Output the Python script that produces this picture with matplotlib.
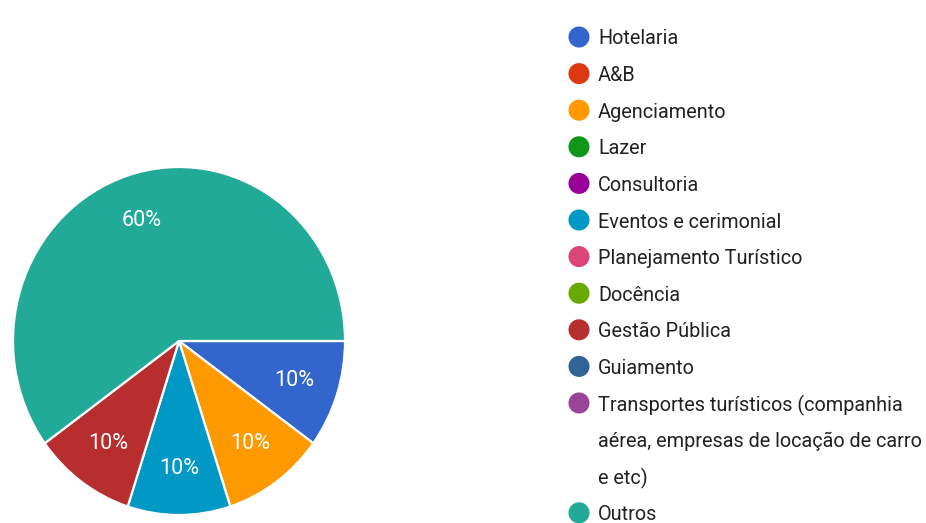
import matplotlib
matplotlib.use("Agg")
import matplotlib.pyplot as plt

# legend order, values (% of answers) and Google-chart colours
categories = [
    "Hotelaria", "A&B", "Agenciamento", "Lazer", "Consultoria",
    "Eventos e cerimonial", "Planejamento Turístico", "Docência",
    "Gestão Pública", "Guiamento",
    "Transportes turísticos (companhia\naérea, empresas de locação de carro\ne etc)",
    "Outros",
]
values = [10, 0, 10, 0, 0, 10, 0, 0, 10, 0, 0, 60]
colors = [
    "#3366cc", "#dc3912", "#ff9900", "#109618", "#990099", "#0099c6",
    "#dd4477", "#66aa00", "#b82e2e", "#316395", "#994499", "#22aa99",
]

plt.rcParams["font.family"] = ["Roboto", "DejaVu Sans"]

W, H = 926, 523
fig = plt.figure(figsize=(W / 100, H / 100), dpi=100)

# pie area (pixel box of the reference)
x0, x1, y0, y1 = 13, 345, 167, 515
ax = fig.add_axes([x0 / W, 1 - y1 / H, (x1 - x0) / W, (y1 - y0) / H])
shown = [(v, c) for v, c in zip(values, colors) if v > 0]
wedges, texts, autotexts = ax.pie(
    [v for v, _ in shown],
    colors=[c for _, c in shown],
    startangle=0,
    counterclock=False,
    radius=1,
    autopct="%d%%",
    pctdistance=0.73,
    wedgeprops=dict(edgecolor="white", linewidth=1.6),
    textprops=dict(color="white", fontsize=15.5),
)
ax.set_aspect("auto")
ax.set_xlim(-1, 1)
ax.set_ylim(-1, 1)

# legend drawn by hand so the marker sits on the first line of wrapped labels
lax = fig.add_axes([0, 0, 1, 1])
lax.set_xlim(0, W)
lax.set_ylim(H, 0)
lax.axis("off")
row_h = 36.6
row = 0
for name, col in zip(categories, colors):
    y = 37 + row * row_h
    lax.scatter([579], [y], s=230, color=col, edgecolors="none")
    for line in name.split("\n"):
        lax.text(598, 37 + row * row_h, line, va="center_baseline", ha="left",
                 fontsize=14.3, color="#222222")
        row += 1

fig.savefig("out.png", dpi=100, facecolor="white")
